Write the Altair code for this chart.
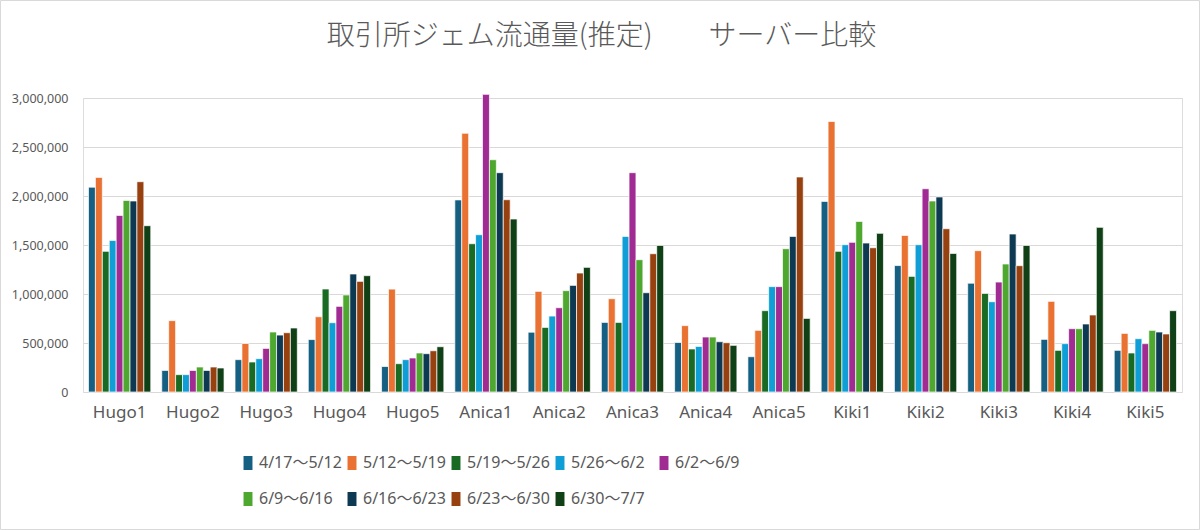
import altair as alt
import pandas as pd

# Servers on the x axis
servers = ["Hugo1", "Hugo2", "Hugo3", "Hugo4", "Hugo5",
           "Anica1", "Anica2", "Anica3", "Anica4", "Anica5",
           "Kiki1", "Kiki2", "Kiki3", "Kiki4", "Kiki5"]

# Weekly periods (series)
periods = ["4/17〜5/12", "5/12〜5/19", "5/19〜5/26", "5/26〜6/2", "6/2〜6/9",
           "6/9〜6/16", "6/16〜6/23", "6/23〜6/30", "6/30〜7/7"]

# Estimated gem volume per server, one list per period
w_0417_0512 = [2090000, 220000, 330000, 535000, 260000, 1960000, 610000, 710000, 505000, 360000,
               1945000, 1290000, 1110000, 537000, 425000]
w_0512_0519 = [2190000, 728000, 495000, 768000, 1050000, 2640000, 1027000, 952000, 677000, 629000,
               2760000, 1598000, 1442000, 925000, 598000]
w_0519_0526 = [1435000, 177000, 306000, 1051000, 289000, 1513000, 659000, 710000, 439000, 830000,
               1435000, 1180000, 1006000, 425000, 398000]
w_0526_0602 = [1547000, 177000, 340000, 707000, 330000, 1605000, 775000, 1588000, 465000, 1075000,
               1503000, 1503000, 921000, 493000, 544000]
w_0602_0609 = [1802000, 220000, 445000, 874000, 347000, 3037000, 860000, 2238000, 561000, 1075000,
               1527000, 2074000, 1122000, 646000, 493000]
w_0609_0616 = [1955000, 255000, 612000, 990000, 398000, 2370000, 1034000, 1350000, 561000, 1462000,
               1741000, 1949000, 1306000, 646000, 629000]
w_0616_0623 = [1949000, 220000, 581000, 1204000, 391000, 2238000, 1088000, 1013000, 513000, 1588000,
               1520000, 1990000, 1612000, 694000, 612000]
w_0623_0630 = [2146000, 255000, 605000, 1129000, 421000, 1962000, 1214000, 1411000, 503000, 2194000,
               1472000, 1666000, 1289000, 786000, 592000]
w_0630_0707 = [1697000, 245000, 653000, 1187000, 462000, 1765000, 1272000, 1496000, 476000, 751000,
               1619000, 1414000, 1496000, 1680000, 830000]

series = [w_0417_0512, w_0512_0519, w_0519_0526, w_0526_0602, w_0602_0609,
          w_0609_0616, w_0616_0623, w_0623_0630, w_0630_0707]

colors = ["#156082", "#E97132", "#196B24", "#0F9ED5", "#A02B93",
          "#4EA72E", "#0D3A52", "#974010", "#0F4016"]

y_ticks = [0, 500000, 1000000, 1500000, 2000000, 2500000, 3000000]

rows = []
for period, values in zip(periods, series):
    for server, v in zip(servers, values):
        rows.append({"server": server, "period": period, "volume": v})
df = pd.DataFrame(rows)

label_font = "Noto Sans, Noto Sans CJK JP"
text_color = "#595959"
grid_color = "#D9D9D9"

bars = alt.Chart(df).mark_bar(stroke="white", strokeWidth=0.7).encode(
    x=alt.X("server:N", sort=servers, title=None,
            scale=alt.Scale(paddingInner=0.15, paddingOuter=0.075),
            axis=alt.Axis(labelAngle=0, labelFont=label_font, labelFontSize=17,
                          labelColor=text_color, labelPadding=12, ticks=False,
                          domain=False, grid=False)),
    xOffset=alt.XOffset("period:N", sort=periods,
                        scale=alt.Scale(paddingInner=0, paddingOuter=0)),
    y=alt.Y("volume:Q", title=None,
            scale=alt.Scale(domain=[0, 3000000], nice=False, clamp=False),
            axis=alt.Axis(values=y_ticks, format=",d", labelFont=label_font,
                          labelFontSize=12.5, labelColor=text_color, labelPadding=15,
                          ticks=False, domain=False, gridColor=grid_color,
                          gridWidth=1)),
    color=alt.Color("period:N", sort=periods, title=None,
                    scale=alt.Scale(domain=periods, range=colors),
                    legend=alt.Legend(orient="none", legendX=157, legendY=357,
                                      direction="horizontal", columns=5,
                                      gridAlign="all", columnPadding=2,
                                      rowPadding=20, padding=0,
                                      symbolType="M-0.64,-1H0.64V1H-0.64Z",
                                      symbolSize=196, symbolStrokeWidth=0,
                                      labelOffset=3, labelFont=label_font,
                                      labelFontSize=16, labelColor=text_color,
                                      labelLimit=200)),
)

# Light outer border around the whole chart area
frame = alt.Chart(pd.DataFrame({"k": [0]})).mark_rect(
    fill=None, stroke="#D9D9D9", strokeWidth=1
).encode(
    x=alt.value(-82.5), x2=alt.value(1116.5),
    y=alt.value(-97.5), y2=alt.value(431.5),
)

chart = alt.layer(bars, frame).properties(
    width=1099, height=294,
    padding={"left": 83, "top": 98, "right": 18, "bottom": 138},
    autosize=alt.AutoSizeParams(type="none"),
    title=alt.TitleParams("取引所ジェム流通量(推定)　　サーバー比較",
                          font="Noto Sans CJK JP", fontSize=28, fontWeight=300,
                          color=text_color, anchor="middle", frame="group",
                          dx=-31, offset=-51),
).configure_view(stroke=None).configure(background="white")

chart.save("out.html", embed_options={"renderer": "svg", "actions": False})
